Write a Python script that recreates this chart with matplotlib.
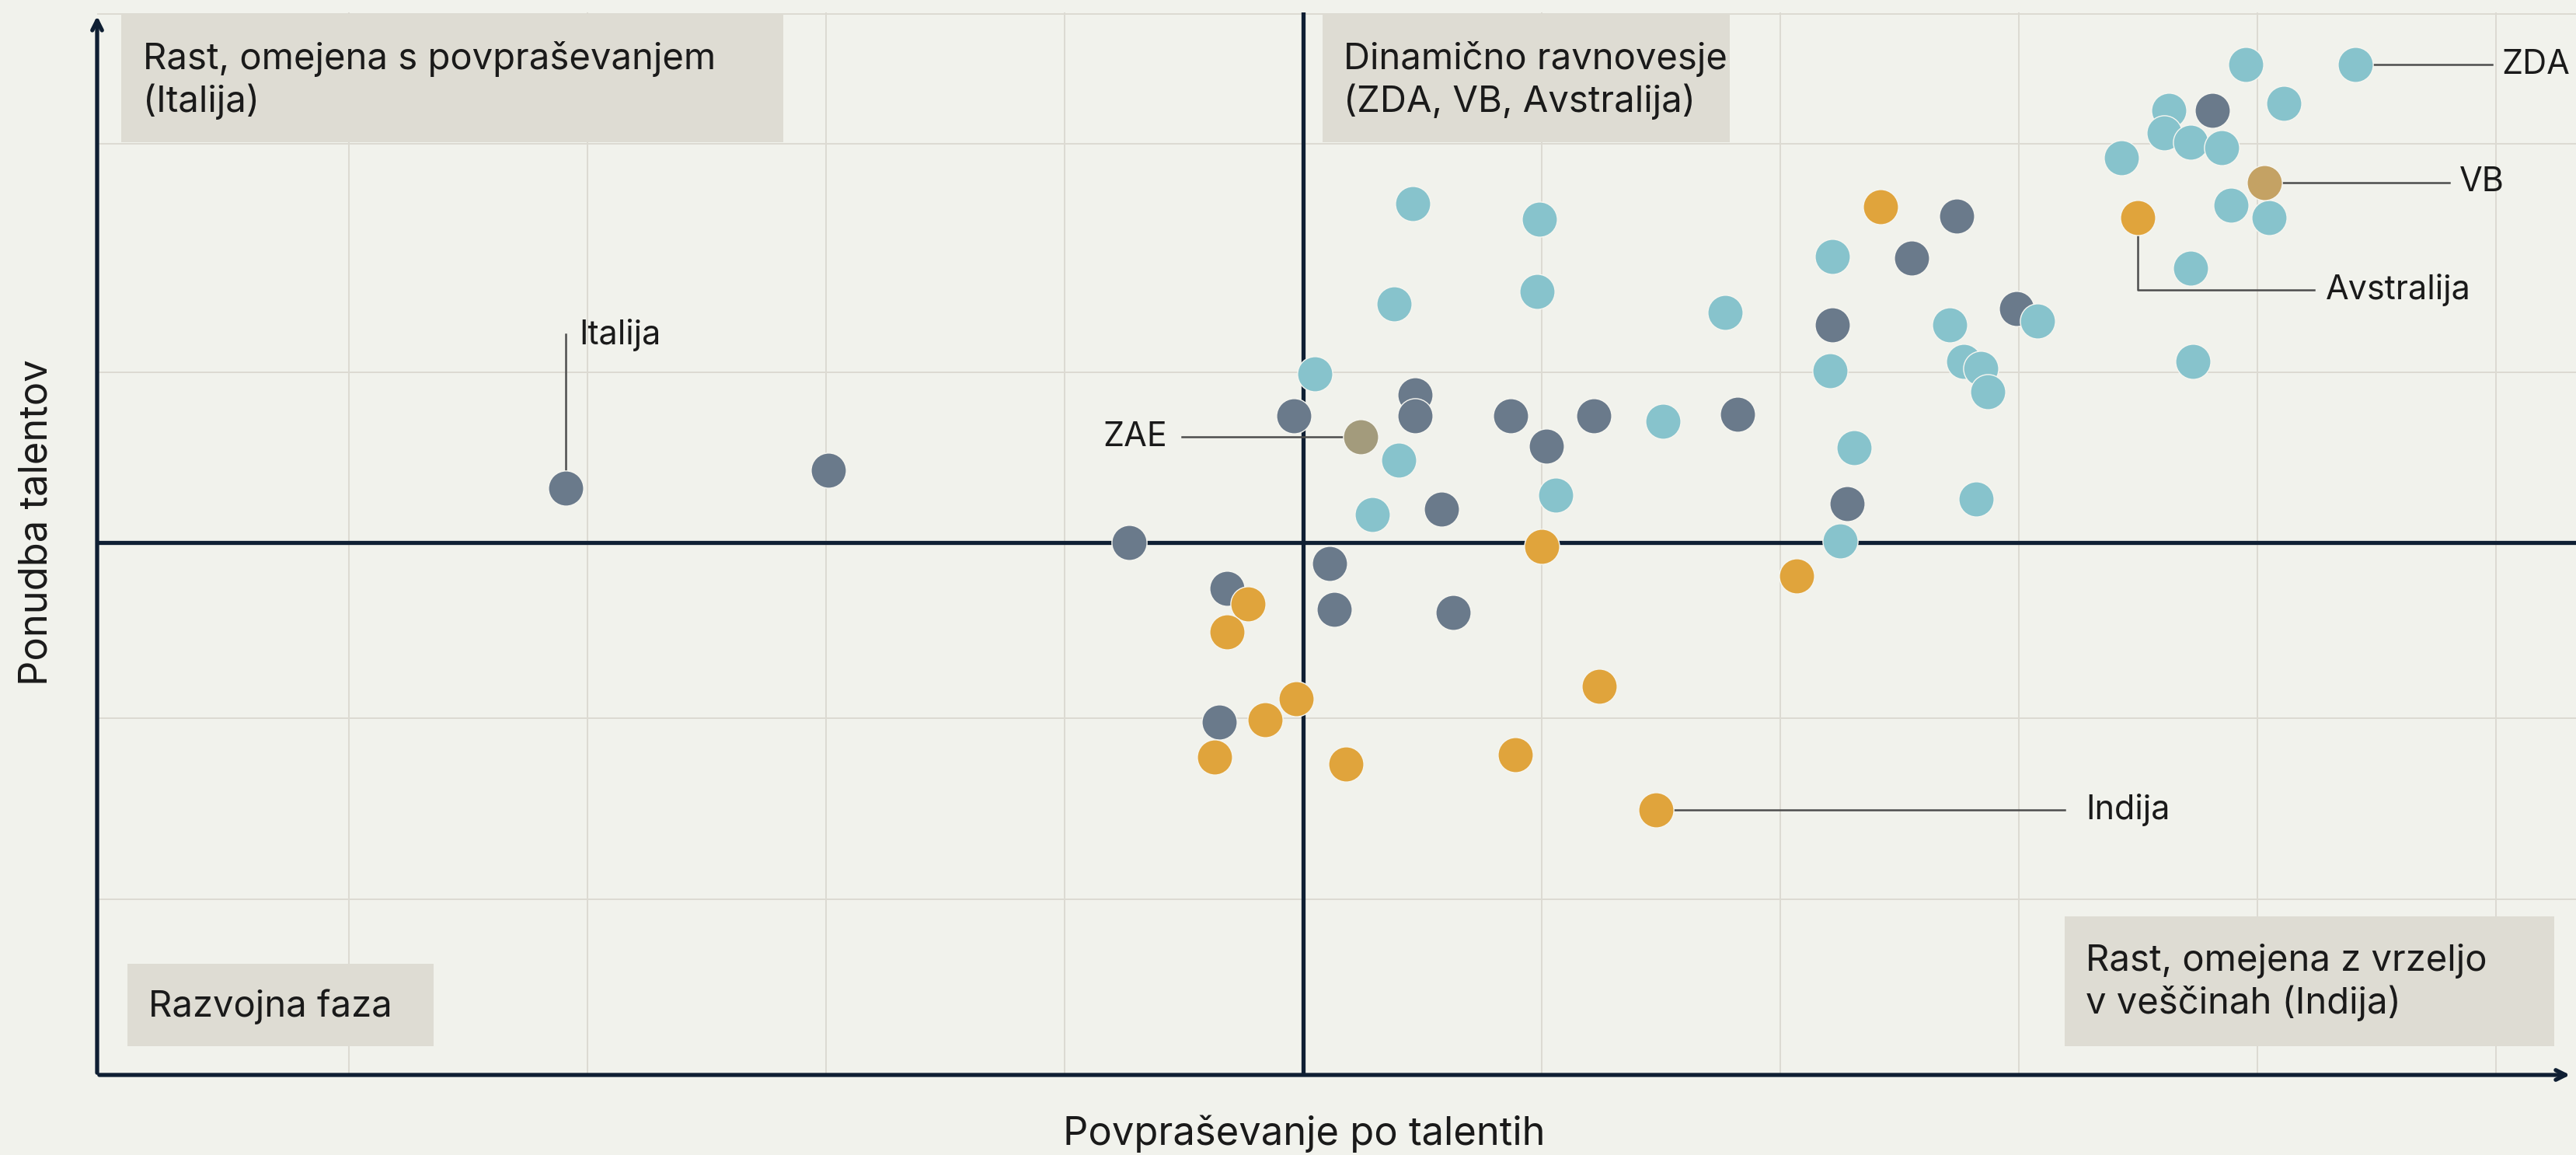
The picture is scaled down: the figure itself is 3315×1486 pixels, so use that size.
import matplotlib
matplotlib.use('Agg')
import matplotlib.pyplot as plt
from matplotlib.patches import Rectangle

plt.rcParams['font.family'] = ['Inter', 'DejaVu Sans']

# ---------------------------------------------------------------
# data: demand (x) vs supply (y) of talent, index units
# ---------------------------------------------------------------
slate_x = [-3.09, -1.99, -0.73, -0.04, 0.47, 0.47, 0.87, 1.02, 1.22, 1.82, 0.58,
           0.11, 0.13, 0.63, -0.32, -0.35, 2.55, 2.74, 2.22, 2.28, 2.99, 3.81]
slate_y = [0.31, 0.41, 0.00, 0.72, 0.84, 0.72, 0.72, 0.55, 0.72, 0.73, 0.19,
           -0.12, -0.38, -0.40, -0.26, -1.02, 1.62, 1.86, 1.24, 0.22, 1.33, 2.46]

teal_x = [0.05, 0.46, 0.99, 0.38, 0.98, 0.40, 0.29, 1.06, 1.51, 1.77, 2.22,
          2.21, 2.31, 2.25, 2.71, 2.77, 2.84, 2.87, 2.82, 3.08, 3.43, 3.63,
          3.61, 3.72, 3.85, 3.95, 4.11, 4.41, 3.89, 4.05, 3.72, 3.73]
teal_y = [0.96, 1.93, 1.84, 1.36, 1.43, 0.47, 0.16, 0.27, 0.69, 1.31, 1.63,
          0.98, 0.54, 0.01, 1.24, 1.03, 0.99, 0.86, 0.25, 1.26, 2.19, 2.46,
          2.33, 2.28, 2.25, 2.72, 2.50, 2.72, 1.92, 1.85, 1.56, 1.03]

orange_x = [2.42, 3.50, 1.00, 2.07, -0.23, -0.32, -0.03, -0.16, -0.37, 0.18,
            0.89, 1.24, 1.48]
orange_y = [1.91, 1.85, -0.02, -0.19, -0.35, -0.51, -0.89, -1.01, -1.22, -1.26,
            -1.21, -0.82, -1.52]

# highlighted countries
zae = (0.24, 0.60)
vb = (4.03, 2.05)
zda = (4.41, 2.72)
avstralija = (3.50, 1.85)
indija = (1.48, -1.52)
italija = (-3.09, 0.31)

grid_x = [-4, -3, -2, -1, 1, 2, 3, 4, 5]
grid_y = [-2.03, -1.0, 0.97, 2.27, 3.01]

# colours
bg = '#f1f2ec'
c_teal = '#87c3cc'
c_slate = '#6a7a8b'
c_orange = '#e0a43c'
c_zae = '#a39b7c'
c_vb = '#c4a264'
c_axis = '#0f1f33'
c_grid = '#dcdad2'
c_box = '#dedcd3'
c_lead = '#4d4d4d'

W, H = 3315, 1486
fig = plt.figure(figsize=(W / 100, H / 100), dpi=100, facecolor=bg)
ax = fig.add_axes([125 / W, 103 / H, (W - 125) / W, 1367 / H])
ax.set_facecolor(bg)
ax.set_xlim(-5.055, 5.336)
ax.set_ylim(-3.031, 3.018)
for s in ax.spines.values():
    s.set_visible(False)
ax.set_xticks([])
ax.set_yticks([])

# grid
for gx in grid_x:
    ax.axvline(gx, color=c_grid, lw=1.4, zorder=0)
for gy in grid_y:
    ax.axhline(gy, color=c_grid, lw=1.4, zorder=0)

# quadrant cross
ax.axhline(0, color=c_axis, lw=3.8, zorder=1)
ax.axvline(0, color=c_axis, lw=3.8, zorder=1)

# axes with arrows
ax.annotate('', xy=(5.32, -3.031), xytext=(-5.055, -3.031),
            arrowprops=dict(arrowstyle='->,head_length=0.9,head_width=0.45',
                            color=c_axis, lw=3.8), annotation_clip=False)
ax.annotate('', xy=(-5.055, 3.01), xytext=(-5.055, -3.031),
            arrowprops=dict(arrowstyle='->,head_length=0.9,head_width=0.45',
                            color=c_axis, lw=3.8), annotation_clip=False)

# quadrant boxes
boxes = [
    ((-4.954, 2.279), 2.775, 0.730, 'Rast, omejena s povpraševanjem\n(Italija)', -4.863, 2.63),
    ((0.081, 2.279), 1.707, 0.730, 'Dinamično ravnovesje\n(ZDA, VB, Avstralija)', 0.169, 2.63),
    ((-4.928, -2.867), 1.283, 0.469, 'Razvojna faza', -4.840, -2.642),
    ((3.192, -2.867), 2.052, 0.739, 'Rast, omejena z vrzeljo\nv veščinah (Indija)', 3.280, -2.505),
]
for (x0, y0), w, h, txt, tx, ty in boxes:
    ax.add_patch(Rectangle((x0, y0), w, h, facecolor=c_box, edgecolor='none', zorder=2))
    ax.text(tx, ty, txt, fontsize=34, color='#1a1a1a', va='center', ha='left',
            linespacing=1.25, zorder=3)

# leader lines (drawn below points)
lk = dict(color=c_lead, lw=1.8, zorder=3)
ax.plot([italija[0], italija[0]], [italija[1], 1.186], **lk)
ax.plot([-0.508, zae[0]], [zae[1], zae[1]], **lk)
ax.plot([zda[0], 4.984], [zda[1], zda[1]], **lk)
ax.plot([vb[0], 4.805], [vb[1], vb[1]], **lk)
ax.plot([avstralija[0], avstralija[0], 4.238], [avstralija[1], 1.438, 1.438], **lk)
ax.plot([indija[0], 3.192], [indija[1], indija[1]], **lk)

# points
ms = 1060
ek = dict(s=ms, edgecolors='#f6f6f0', linewidths=1.0, zorder=4)
ax.scatter(slate_x, slate_y, color=c_slate, **ek)
ax.scatter(teal_x, teal_y, color=c_teal, **ek)
ax.scatter(orange_x, orange_y, color=c_orange, **ek)
ax.scatter([zae[0]], [zae[1]], color=c_zae, **ek)
ax.scatter([vb[0]], [vb[1]], color=c_vb, **ek)

# point labels
tk = dict(fontsize=31, color='#1a1a1a', va='center', zorder=5)
ax.text(-3.033, 1.18, 'Italija', ha='left', **tk)
ax.text(-0.570, zae[1], 'ZAE', ha='right', **tk)
ax.text(5.026, zda[1], 'ZDA', ha='left', **tk)
ax.text(4.847, vb[1], 'VB', ha='left', **tk)
ax.text(4.287, 1.438, 'Avstralija', ha='left', **tk)
ax.text(3.283, indija[1], 'Indija', ha='left', **tk)

# axis titles
fig.text(47 / W, 1 - 672 / H, 'Ponudba talentov', rotation=90, fontsize=36.5,
         color='#1a1a1a', ha='center', va='center')
fig.text(1678 / W, 1 - 1459 / H, 'Povpraševanje po talentih', fontsize=36.5,
         color='#1a1a1a', ha='center', va='center')

fig.savefig('out.png', dpi=100, facecolor=bg)
